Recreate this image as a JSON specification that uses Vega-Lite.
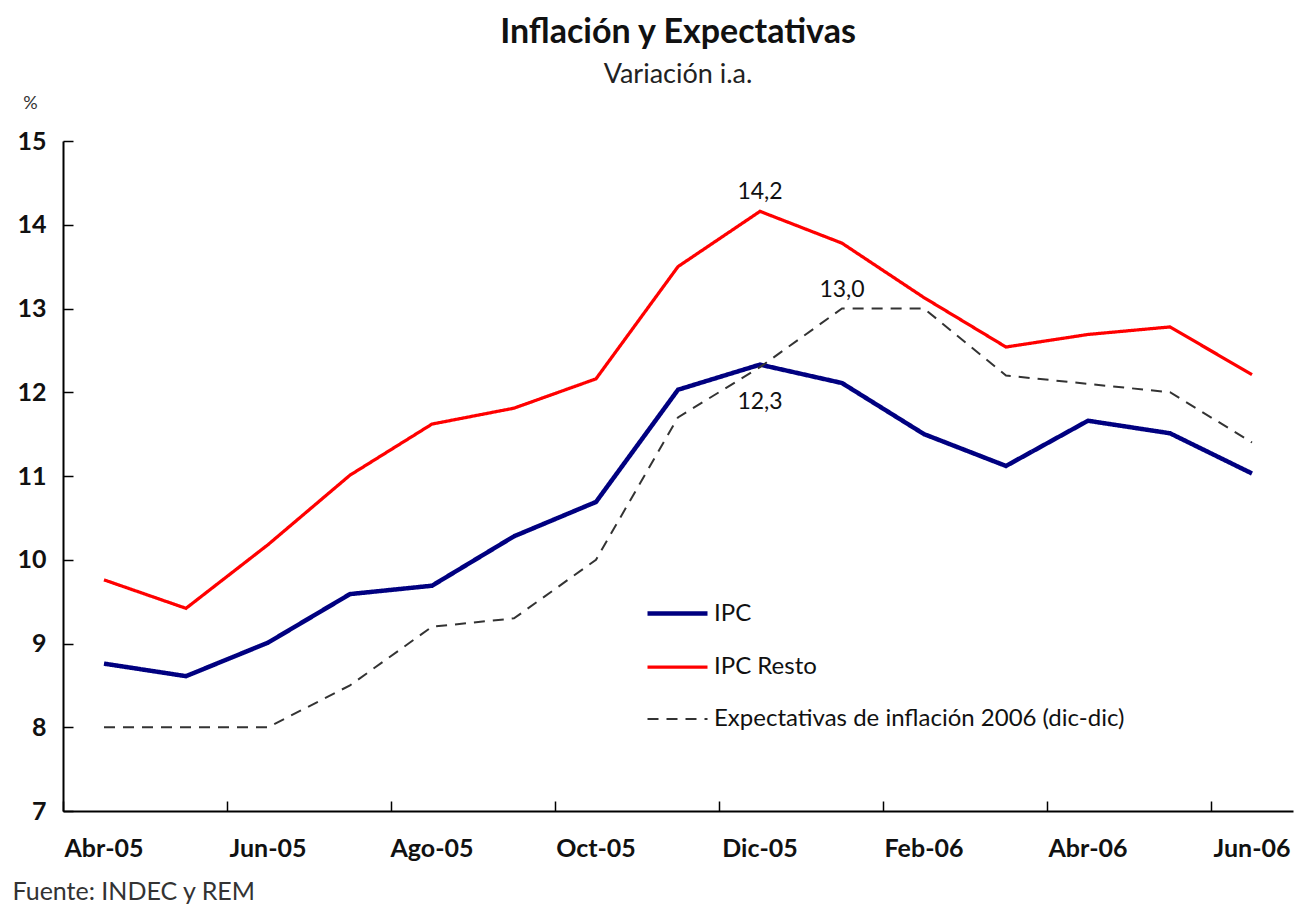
{
  "$schema": "https://vega.github.io/schema/vega-lite/v6.json",
  "width": 1230,
  "height": 670,
  "autosize": {"type": "none"},
  "padding": {"left": 63, "top": 141, "right": 5, "bottom": 98},
  "background": "white",
  "config": {
    "font": "Lato",
    "view": {"stroke": null},
    "axis": {"grid": false, "domainColor": "#000000", "tickColor": "#000000", "domainWidth": 2, "tickWidth": 1.5, "labelColor": "#111111", "labelFont": "Lato", "labelFontWeight": "bold", "labelFontSize": 25}
  },
  "title": {
    "text": "Inflación y Expectativas",
    "subtitle": "Variación i.a.",
    "anchor": "middle",
    "font": "Lato",
    "fontSize": 34,
    "fontWeight": "bold",
    "color": "#111111",
    "subtitleFont": "Lato",
    "subtitleFontSize": 27,
    "subtitleColor": "#222222",
    "subtitlePadding": 12,
    "offset": 6
  },
  "resolve": {"axis": {"x": "independent", "y": "independent"}},
  "datasets": {
    "series": [
      {"mes": "Abr-05", "serie": "IPC", "valor": 8.76},
      {"mes": "May-05", "serie": "IPC", "valor": 8.61},
      {"mes": "Jun-05", "serie": "IPC", "valor": 9.01},
      {"mes": "Jul-05", "serie": "IPC", "valor": 9.59},
      {"mes": "Ago-05", "serie": "IPC", "valor": 9.69},
      {"mes": "Sep-05", "serie": "IPC", "valor": 10.28},
      {"mes": "Oct-05", "serie": "IPC", "valor": 10.69},
      {"mes": "Nov-05", "serie": "IPC", "valor": 12.03},
      {"mes": "Dic-05", "serie": "IPC", "valor": 12.33},
      {"mes": "Ene-06", "serie": "IPC", "valor": 12.11},
      {"mes": "Feb-06", "serie": "IPC", "valor": 11.5},
      {"mes": "Mar-06", "serie": "IPC", "valor": 11.12},
      {"mes": "Abr-06", "serie": "IPC", "valor": 11.66},
      {"mes": "May-06", "serie": "IPC", "valor": 11.51},
      {"mes": "Jun-06", "serie": "IPC", "valor": 11.03},
      {"mes": "Abr-05", "serie": "IPC Resto", "valor": 9.76},
      {"mes": "May-05", "serie": "IPC Resto", "valor": 9.42},
      {"mes": "Jun-05", "serie": "IPC Resto", "valor": 10.18},
      {"mes": "Jul-05", "serie": "IPC Resto", "valor": 11.01},
      {"mes": "Ago-05", "serie": "IPC Resto", "valor": 11.62},
      {"mes": "Sep-05", "serie": "IPC Resto", "valor": 11.81},
      {"mes": "Oct-05", "serie": "IPC Resto", "valor": 12.16},
      {"mes": "Nov-05", "serie": "IPC Resto", "valor": 13.5},
      {"mes": "Dic-05", "serie": "IPC Resto", "valor": 14.16},
      {"mes": "Ene-06", "serie": "IPC Resto", "valor": 13.78},
      {"mes": "Feb-06", "serie": "IPC Resto", "valor": 13.13},
      {"mes": "Mar-06", "serie": "IPC Resto", "valor": 12.54},
      {"mes": "Abr-06", "serie": "IPC Resto", "valor": 12.69},
      {"mes": "May-06", "serie": "IPC Resto", "valor": 12.78},
      {"mes": "Jun-06", "serie": "IPC Resto", "valor": 12.21},
      {"mes": "Abr-05", "serie": "Expectativas de inflación 2006 (dic-dic)", "valor": 8.0},
      {"mes": "May-05", "serie": "Expectativas de inflación 2006 (dic-dic)", "valor": 8.0},
      {"mes": "Jun-05", "serie": "Expectativas de inflación 2006 (dic-dic)", "valor": 8.0},
      {"mes": "Jul-05", "serie": "Expectativas de inflación 2006 (dic-dic)", "valor": 8.5},
      {"mes": "Ago-05", "serie": "Expectativas de inflación 2006 (dic-dic)", "valor": 9.2},
      {"mes": "Sep-05", "serie": "Expectativas de inflación 2006 (dic-dic)", "valor": 9.3},
      {"mes": "Oct-05", "serie": "Expectativas de inflación 2006 (dic-dic)", "valor": 10.0},
      {"mes": "Nov-05", "serie": "Expectativas de inflación 2006 (dic-dic)", "valor": 11.7},
      {"mes": "Dic-05", "serie": "Expectativas de inflación 2006 (dic-dic)", "valor": 12.3},
      {"mes": "Ene-06", "serie": "Expectativas de inflación 2006 (dic-dic)", "valor": 13.0},
      {"mes": "Feb-06", "serie": "Expectativas de inflación 2006 (dic-dic)", "valor": 13.0},
      {"mes": "Mar-06", "serie": "Expectativas de inflación 2006 (dic-dic)", "valor": 12.2},
      {"mes": "Abr-06", "serie": "Expectativas de inflación 2006 (dic-dic)", "valor": 12.1},
      {"mes": "May-06", "serie": "Expectativas de inflación 2006 (dic-dic)", "valor": 12.0},
      {"mes": "Jun-06", "serie": "Expectativas de inflación 2006 (dic-dic)", "valor": 11.4}
    ],
    "etiquetasArriba": [
      {"mes": "Dic-05", "valor": 14.16, "texto": "14,2"},
      {"mes": "Ene-06", "valor": 13.0, "texto": "13,0"}
    ],
    "etiquetasAbajo": [
      {"mes": "Dic-05", "valor": 12.33, "texto": "12,3"}
    ]
  },
  "layer": [
    {
      "data": {"name": "series"},
      "mark": {"type": "line", "strokeCap": "butt", "strokeJoin": "miter"},
      "encoding": {
        "x": {
          "field": "mes",
          "type": "ordinal",
          "sort": null,
          "scale": {"type": "band", "paddingInner": 0, "paddingOuter": 0, "domain": ["Abr-05","May-05","Jun-05","Jul-05","Ago-05","Sep-05","Oct-05","Nov-05","Dic-05","Ene-06","Feb-06","Mar-06","Abr-06","May-06","Jun-06"]},
          "axis": {
            "orient": "bottom",
            "values": ["Abr-05","Jun-05","Ago-05","Oct-05","Dic-05","Feb-06","Abr-06","Jun-06"],
            "ticks": false,
            "labelPadding": 25,
            "labelAngle": 0,
            "title": "Fuente: INDEC y REM",
            "titleFont": "Lato",
            "titleFontWeight": "normal",
            "titleFontSize": 25,
            "titleColor": "#333333",
            "titleAlign": "left",
            "titleAnchor": "start",
            "titleBaseline": "alphabetic",
            "titleX": -51,
            "titleY": 88
          }
        },
        "y": {
          "field": "valor",
          "type": "quantitative",
          "scale": {"domain": [7, 15], "nice": false, "zero": false},
          "axis": {
            "orient": "left",
            "values": [7, 8, 9, 10, 11, 12, 13, 14, 15],
            "ticks": false,
            "labelPadding": 17,
            "title": "%",
            "titleAngle": 0,
            "titleFont": "Lato",
            "titleFontWeight": "normal",
            "titleFontSize": 18,
            "titleColor": "#333333",
            "titleAlign": "center",
            "titleBaseline": "alphabetic",
            "titleX": -33,
            "titleY": -33
          }
        },
        "color": {
          "field": "serie",
          "type": "nominal",
          "scale": {"domain": ["IPC", "IPC Resto", "Expectativas de inflación 2006 (dic-dic)"], "range": ["#000080", "#ff0000", "#333333"]},
          "legend": {
            "title": null,
            "orient": "none",
            "legendX": 582,
            "legendY": 440,
            "symbolType": "stroke",
            "symbolSize": 3600,
            "labelFont": "Lato",
            "labelFontSize": 24,
            "labelColor": "#111111",
            "labelLimit": 0,
            "rowPadding": 9,
            "labelOffset": 4
          }
        },
        "strokeDash": {
          "field": "serie",
          "type": "nominal",
          "scale": {"domain": ["IPC", "IPC Resto", "Expectativas de inflación 2006 (dic-dic)"], "range": [[1, 0], [1, 0], [11, 8]]},
          "legend": {
            "title": null,
            "orient": "none",
            "legendX": 582,
            "legendY": 440,
            "symbolType": "stroke",
            "symbolSize": 3600,
            "labelFont": "Lato",
            "labelFontSize": 24,
            "labelColor": "#111111",
            "labelLimit": 0,
            "rowPadding": 9,
            "labelOffset": 4
          }
        },
        "strokeWidth": {
          "field": "serie",
          "type": "nominal",
          "scale": {"domain": ["IPC", "IPC Resto", "Expectativas de inflación 2006 (dic-dic)"], "range": [4.5, 2, 3]},
          "legend": {
            "title": null,
            "orient": "none",
            "legendX": 582,
            "legendY": 440,
            "symbolType": "stroke",
            "symbolSize": 3600,
            "labelFont": "Lato",
            "labelFontSize": 24,
            "labelColor": "#111111",
            "labelLimit": 0,
            "rowPadding": 9,
            "labelOffset": 4
          }
        }
      }
    },
    {
      "data": {"name": "etiquetasArriba"},
      "mark": {"type": "text", "font": "Lato", "fontSize": 23, "baseline": "bottom", "dy": -7, "color": "#111111"},
      "encoding": {
        "x": {
          "field": "mes",
          "type": "ordinal",
          "sort": null,
          "scale": {"type": "band", "paddingInner": 0, "paddingOuter": 0, "domain": ["Abr-05","May-05","Jun-05","Jul-05","Ago-05","Sep-05","Oct-05","Nov-05","Dic-05","Ene-06","Feb-06","Mar-06","Abr-06","May-06","Jun-06"]},
          "axis": {
            "orient": "bottom",
            "offset": -10,
            "values": ["Abr-05","Jun-05","Ago-05","Oct-05","Dic-05","Feb-06","Abr-06","Jun-06"],
            "tickSize": 10,
            "tickOffset": -41,
            "labels": false,
            "domain": false,
            "title": null
          }
        },
        "y": {
          "field": "valor",
          "type": "quantitative",
          "scale": {"domain": [7, 15], "nice": false, "zero": false},
          "axis": {
            "orient": "left",
            "offset": -10,
            "values": [7, 8, 9, 10, 11, 12, 13, 14, 15],
            "tickSize": 10,
            "labels": false,
            "domain": false,
            "title": null
          }
        },
        "text": {"field": "texto"}
      }
    },
    {
      "data": {"name": "etiquetasAbajo"},
      "mark": {"type": "text", "font": "Lato", "fontSize": 23, "baseline": "top", "dy": 26, "color": "#111111"},
      "encoding": {
        "x": {"field": "mes", "type": "ordinal", "sort": null, "axis": null},
        "y": {"field": "valor", "type": "quantitative", "axis": null},
        "text": {"field": "texto"}
      }
    }
  ]
}
